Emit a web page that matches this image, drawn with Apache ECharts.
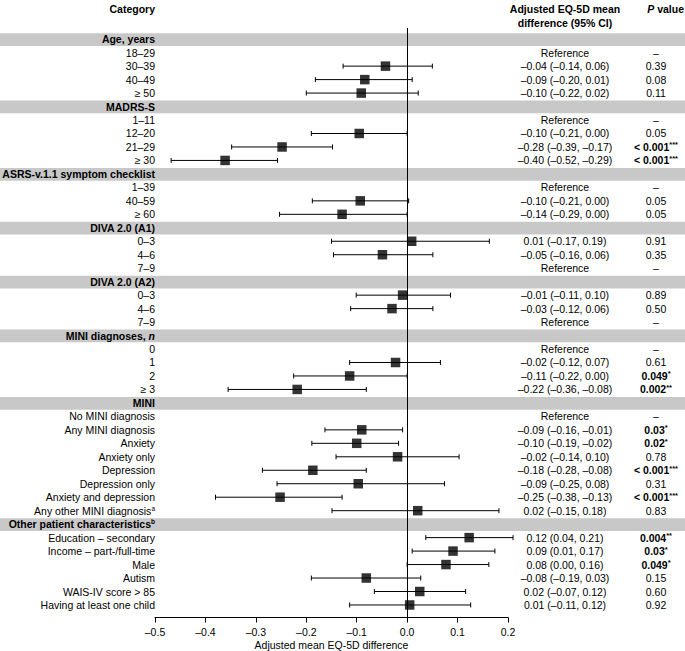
<!DOCTYPE html>
<html><head><meta charset="utf-8">
<script src="https://cdn.jsdelivr.net/npm/echarts@6/dist/echarts.min.js"></script>
<style>html,body{margin:0;padding:0;background:#fff}#c{width:685px;height:651px}</style>
</head><body><div id="c"></div>
<script>
const categories = [
  'Age, years','18–29','30–39','40–49','≥ 50',
  'MADRS-S','1–11','12–20','21–29','≥ 30',
  'ASRS-v.1.1 symptom checklist','1–39','40–59','≥ 60',
  'DIVA 2.0 (A1)','0–3','4–6','7–9',
  'DIVA 2.0 (A2)','0–3','4–6','7–9',
  'MINI diagnoses, {it|n}','0','1','2','≥ 3',
  'MINI','No MINI diagnosis','Any MINI diagnosis','Anxiety','Anxiety only','Depression','Depression only','Anxiety and depression','Any other MINI diagnosis{sup|a}',
  'Other patient characteristics{supb|b}','Education – secondary','Income – part-/full-time','Male','Autism','WAIS-IV score > 85','Having at least one child'
];
const headerRows = [0,5,10,14,18,22,27,36];
const estimate = [
  null,null,-0.043,-0.084,-0.091,
  null,null,-0.095,-0.248,-0.361,
  null,null,-0.093,-0.129,
  null,0.009,-0.049,null,
  null,-0.009,-0.030,null,
  null,null,-0.023,-0.114,-0.218,
  null,null,-0.090,-0.100,-0.019,-0.187,-0.097,-0.252,0.021,
  null,0.123,0.091,0.077,-0.081,0.025,0.005
];
const ciLower = [
  null,null,-0.127,-0.182,-0.200,
  null,null,-0.190,-0.348,-0.468,
  null,null,-0.188,-0.253,
  null,-0.150,-0.146,null,
  null,-0.101,-0.112,null,
  null,null,-0.114,-0.225,-0.355,
  null,null,-0.163,-0.189,-0.141,-0.287,-0.258,-0.380,-0.149,
  null,0.037,0.010,0.000,-0.190,-0.065,-0.114
];
const ciUpper = [
  null,null,0.050,0.010,0.022,
  null,null,0.000,-0.148,-0.257,
  null,null,0.003,0.000,
  null,0.163,0.051,null,
  null,0.086,0.051,null,
  null,null,0.066,0.000,-0.081,
  null,null,-0.009,-0.017,0.103,-0.081,0.074,-0.129,0.182,
  null,0.210,0.174,0.162,0.027,0.116,0.126
];
const ciText = [
  '','Reference','–0.04 (–0.14, 0.06)','–0.09 (–0.20, 0.01)','–0.10 (–0.22, 0.02)',
  '','Reference','–0.10 (–0.21, 0.00)','–0.28 (–0.39, –0.17)','–0.40 (–0.52, –0.29)',
  '','Reference','–0.10 (–0.21, 0.00)','–0.14 (–0.29, 0.00)',
  '','0.01 (–0.17, 0.19)','–0.05 (–0.16, 0.06)','Reference',
  '','–0.01 (–0.11, 0.10)','–0.03 (–0.12, 0.06)','Reference',
  '','Reference','–0.02 (–0.12, 0.07)','–0.11 (–0.22, 0.00)','–0.22 (–0.36, –0.08)',
  '','Reference','–0.09 (–0.16, –0.01)','–0.10 (–0.19, –0.02)','–0.02 (–0.14, 0.10)','–0.18 (–0.28, –0.08)','–0.09 (–0.25, 0.08)','–0.25 (–0.38, –0.13)','0.02 (–0.15, 0.18)',
  '','0.12 (0.04, 0.21)','0.09 (0.01, 0.17)','0.08 (0.00, 0.16)','–0.08 (–0.19, 0.03)','0.02 (–0.07, 0.12)','0.01 (–0.11, 0.12)'
];
const pText = [
  '','–','0.39','0.08','0.11',
  '','–','0.05','< 0.001***','< 0.001***',
  '','–','0.05','0.05',
  '','0.91','0.35','–',
  '','0.89','0.50','–',
  '','–','0.61','0.049*','0.002**',
  '','–','0.03*','0.02*','0.78','< 0.001***','0.31','< 0.001***','0.83',
  '','0.004**','0.03*','0.049*','0.15','0.60','0.92'
];
const xMin = -0.5, xMax = 0.2, xStep = 0.1;
const axisTitle = 'Adjusted mean EQ-5D difference';

const FF = '"Liberation Sans", Arial, sans-serif';
const FS = 10.5;
const rich = {
  it: {fontFamily: FF, fontSize: FS, fontWeight: 'bold', fontStyle: 'italic'},
  sup: {fontFamily: FF, fontSize: 6.5, verticalAlign: 'top', lineHeight: 12},
  supb: {fontFamily: FF, fontSize: 6.5, fontWeight: 'bold', verticalAlign: 'top', lineHeight: 12},
  pb: {fontFamily: FF, fontSize: FS, fontWeight: 'bold', lineHeight: 12},
  st: {fontFamily: FF, fontSize: 7.5, fontWeight: 'bold', verticalAlign: 'top', lineHeight: 12}
};

const rowData = categories.map((c, i) => [i + 1, i]);
const bandData = headerRows.map(i => [i + 1]);
const barData = [];
const pointData = [];
estimate.forEach((v, i) => {
  if (v !== null) {
    barData.push([ciLower[i], ciUpper[i], i + 1]);
    pointData.push([v, i + 1]);
  }
});

function fmtP(s) {
  const m = s.match(/^(.*?)(\*+)$/);
  if (m) return '{pb|' + m[1] + '}{st|' + m[2] + '}';
  return s;
}

const chart = echarts.init(document.getElementById('c'), null, {renderer: 'svg'});
chart.setOption({
  animation: false,
  backgroundColor: '#fff',
  grid: {left: 155, right: 177, top: 28, bottom: 33.5, containLabel: false, outerBoundsMode: 'none'},
  xAxis: {
    type: 'value', min: xMin, max: xMax, interval: xStep,
    splitLine: {show: false},
    axisLine: {show: true, onZero: false, lineStyle: {color: '#000', width: 1}},
    axisTick: {show: true, inside: false, length: 5, lineStyle: {color: '#000'}},
    axisLabel: {color: '#000', fontFamily: FF, fontSize: FS, margin: 9,
      formatter: v => (v < 0 ? '–' : '') + Math.abs(v).toFixed(1)},
    name: axisTitle, nameLocation: 'middle', nameGap: 27, nameMoveOverlap: false,
    nameTextStyle: {color: '#000', fontFamily: FF, fontSize: FS, verticalAlign: 'middle'}
  },
  yAxis: {type: 'value', inverse: true, min: 0.169, max: 43.93, show: false},
  graphic: [
    {type: 'text', style: {text: 'Category', x: 155, y: 9, align: 'right', verticalAlign: 'middle',
      fontFamily: FF, fontSize: FS, fontWeight: 'bold', fill: '#000'}},
    {type: 'text', style: {text: 'Adjusted EQ-5D mean\ndifference (95% CI)', x: 565, y: 15.5, align: 'center', verticalAlign: 'middle',
      lineHeight: 14, fontFamily: FF, fontSize: FS, fontWeight: 'bold', fill: '#000'}},
    {type: 'text', style: {text: '{pi|P} value', x: 684, y: 9, align: 'right', verticalAlign: 'middle',
      fontFamily: FF, fontSize: FS, fontWeight: 'bold', fill: '#000',
      rich: {pi: {fontFamily: FF, fontSize: FS, fontWeight: 'bold', fontStyle: 'italic'}}}}
  ],
  series: [
    {
      type: 'custom', name: 'bands', z: 1, clip: false, silent: true,
      data: bandData, encode: {y: 0},
      renderItem: (params, api) => {
        const y = api.coord([0, api.value(0)])[1];
        return {type: 'rect', shape: {x: 0, y: y - 6, width: api.getWidth(), height: 12.8},
          style: {fill: '#c8c8c8'}};
      }
    },
    {
      type: 'custom', name: 'labels', z: 3, clip: false, silent: true,
      data: rowData, encode: {y: 0},
      renderItem: (params, api) => {
        const i = api.value(1);
        const y = api.coord([0, api.value(0)])[1];
        const xl = api.coord([xMin, api.value(0)])[0];
        const header = headerRows.indexOf(i) >= 0;
        const kids = [{type: 'text', style: {text: categories[i], x: xl, y: y, align: 'right', verticalAlign: 'middle',
          fontFamily: FF, fontSize: FS, fontWeight: header ? 'bold' : 'normal', fill: '#000', rich: rich}}];
        if (!header) {
          kids.push({type: 'text', style: {text: ciText[i], x: 565, y: y, align: 'center', verticalAlign: 'middle',
            fontFamily: FF, fontSize: FS, fill: '#000'}});
          kids.push({type: 'text', style: {text: fmtP(pText[i]), x: 656, y: y, align: 'center', verticalAlign: 'middle',
            fontFamily: FF, fontSize: FS, fill: '#000', rich: rich}});
        }
        return {type: 'group', children: kids};
      }
    },
    {
      type: 'custom', name: 'ci', z: 4, clip: false, silent: true,
      data: barData, encode: {x: [0, 1], y: 2},
      renderItem: (params, api) => {
        const a = api.coord([api.value(0), api.value(2)]);
        const b = api.coord([api.value(1), api.value(2)]);
        const h = 2.5;
        const st = {stroke: '#000', lineWidth: 1};
        return {type: 'group', children: [
          {type: 'line', shape: {x1: a[0], y1: a[1], x2: b[0], y2: b[1]}, style: st},
          {type: 'line', shape: {x1: a[0], y1: a[1] - h, x2: a[0], y2: a[1] + h}, style: st},
          {type: 'line', shape: {x1: b[0], y1: b[1] - h, x2: b[0], y2: b[1] + h}, style: st}
        ]};
      }
    },
    {
      type: 'scatter', name: 'estimate', z: 5, silent: true,
      symbol: 'rect', symbolSize: 9.5, itemStyle: {color: '#000'},
      data: pointData,
      markLine: {
        silent: true, symbol: 'none', label: {show: false},
        lineStyle: {color: '#000', width: 1, type: 'solid'},
        data: [{xAxis: 0}]
      }
    }
  ]
});
</script>
</body></html>
